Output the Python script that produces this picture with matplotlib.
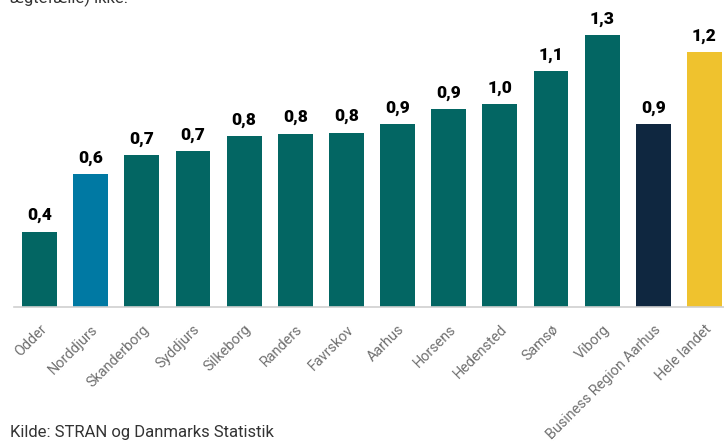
import matplotlib.pyplot as plt

# Data
kommuner = ['Odder', 'Norddjurs', 'Skanderborg', 'Syddjurs', 'Silkeborg', 'Randers',
            'Favrskov', 'Aarhus', 'Horsens', 'Hedensted', 'Samsø', 'Viborg',
            'Business Region Aarhus', 'Hele landet']
vaerdier = [0.355, 0.627, 0.717, 0.736, 0.806, 0.817, 0.823, 0.862, 0.932, 0.957,
            1.113, 1.283, 0.863, 1.203]
etiketter = ['0,4', '0,6', '0,7', '0,7', '0,8', '0,8', '0,8', '0,9', '0,9', '1,0',
             '1,1', '1,3', '0,9', '1,2']

teal = '#036663'
farver = [teal, '#0079A3'] + [teal] * 10 + ['#0F2740', '#EFC22E']

plt.rcParams['font.family'] = ['Roboto', 'DejaVu Sans']

fig = plt.figure(figsize=(7.24, 4.44), dpi=100)
# axes reach a bit past the right edge, like the reference
ax = fig.add_axes([14 / 724, 137 / 444, 716 / 724, 296.8 / 444])

x = range(len(kommuner))
ax.bar(x, vaerdier, width=0.68, color=farver)
for i, (v, lab) in enumerate(zip(vaerdier, etiketter)):
    ax.annotate(lab, (i, v), xytext=(0, 6), textcoords='offset points',
                ha='center', va='bottom', fontsize=12.5, fontweight='heavy', color='black')

ax.set_xlim(-0.5, 13.5)
ax.set_ylim(0, 1.4)
ax.set_yticks([])
for s in ['top', 'right', 'left']:
    ax.spines[s].set_visible(False)
ax.spines['bottom'].set_color('#d0d0d0')
ax.spines['bottom'].set_linewidth(1.2)

ax.set_xticks(list(x))
ax.set_xticklabels(kommuner, rotation=45, ha='right', rotation_mode='anchor',
                   fontsize=10.4, color='#707070')
ax.tick_params(axis='x', length=0, pad=11)

fig.text(10 / 724, 1 - 3 / 444, 'ægtefælle) ikke.', fontsize=12, color='#333333',
         ha='left', va='baseline')
fig.text(10 / 724, 1 - 437 / 444, 'Kilde: STRAN og Danmarks Statistik', fontsize=12,
         color='#333333', ha='left', va='baseline')

fig.savefig('out.png', dpi=100)
